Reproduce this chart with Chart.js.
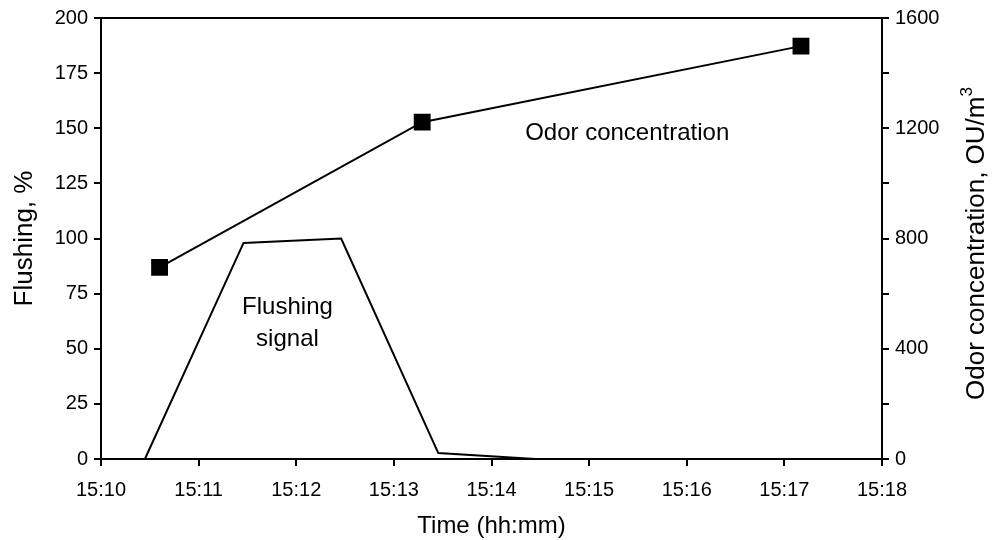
<!DOCTYPE html>
<html>
<head>
<meta charset="utf-8">
<script src="https://cdn.jsdelivr.net/npm/chart.js@4.4.0/dist/chart.umd.min.js"></script>
<style>
  html, body { margin: 0; padding: 0; background: #fff; }
  #wrap { width: 994px; height: 540px; }
</style>
</head>
<body>
<div id="wrap"><canvas id="chart"></canvas></div>
<script>
// minutes after 15:10
const xTickLabels = ["15:10","15:11","15:12","15:13","15:14","15:15","15:16","15:17","15:18"];

const flushTime  = [0.45, 1.46, 2.46, 3.455, 4.45];
const flushValue = [0, 98, 100, 2.7, 0];

const odorTime  = [0.60, 3.29, 7.17];
const odorValue = [695, 1222, 1498];

const FONT = "'Liberation Sans', Arial, sans-serif";

// text labels inside the plot, right axis title, top frame line
const extras = {
  id: "extras",
  afterDraw(chart) {
    const {ctx, chartArea, scales} = chart;
    ctx.save();
    ctx.strokeStyle = "#000";
    ctx.lineWidth = 2;
    ctx.beginPath();
    ctx.moveTo(chartArea.left, chartArea.top);
    ctx.lineTo(chartArea.right, chartArea.top);
    ctx.stroke();

    ctx.fillStyle = "#000";
    ctx.font = "24px " + FONT;
    ctx.textAlign = "center";
    ctx.textBaseline = "middle";
    ctx.fillText("Odor concentration", scales.x.getPixelForValue(5.39), scales.y2.getPixelForValue(1182));
    const fx = scales.x.getPixelForValue(1.91);
    const fy = scales.y.getPixelForValue(61.5);
    ctx.fillText("Flushing", fx, fy - 16);
    ctx.fillText("signal", fx, fy + 16);

    // right axis title, reading bottom to top, with superscript 3
    const main = "Odor concentration, OU/m";
    const sup = "3";
    ctx.font = "26px " + FONT;
    const wMain = ctx.measureText(main).width;
    ctx.font = "17px " + FONT;
    const wSup = ctx.measureText(sup).width;
    const total = wMain + wSup;
    const cy = (chartArea.top + chartArea.bottom) / 2 + 5;
    ctx.translate(977, cy);
    ctx.rotate(-Math.PI / 2);
    ctx.textAlign = "left";
    ctx.textBaseline = "middle";
    ctx.font = "26px " + FONT;
    ctx.fillText(main, -total / 2, 0);
    ctx.font = "17px " + FONT;
    ctx.fillText(sup, -total / 2 + wMain, -10);
    ctx.restore();
  }
};

new Chart(document.getElementById("chart"), {
  type: "scatter",
  data: {
    datasets: [
      {
        label: "Flushing signal",
        data: flushTime.map((t, i) => ({x: t, y: flushValue[i]})),
        showLine: true,
        borderColor: "#000",
        borderWidth: 2,
        pointRadius: 0,
        yAxisID: "y"
      },
      {
        label: "Odor concentration",
        data: odorTime.map((t, i) => ({x: t, y: odorValue[i]})),
        showLine: true,
        borderColor: "#000",
        borderWidth: 2,
        pointStyle: "rect",
        pointRadius: 10.5,
        pointBackgroundColor: "#000",
        pointBorderColor: "#000",
        yAxisID: "y2"
      }
    ]
  },
  options: {
    responsive: true,
    maintainAspectRatio: false,
    animation: false,
    layout: { padding: { top: 18, left: 0, right: 0, bottom: 0 } },
    plugins: { legend: { display: false }, tooltip: { enabled: false } },
    scales: {
      x: {
        type: "linear",
        min: 0, max: 8,
        afterBuildTicks(scale) { scale.ticks = xTickLabels.map((_, i) => ({value: i})); },
        afterFit(scale) { scale.height = 81; },
        ticks: {
          color: "#000", font: { family: FONT, size: 20 }, padding: 12,
          callback: (v) => xTickLabels[v]
        },
        grid: { drawOnChartArea: false, tickLength: 7, color: "#000", lineWidth: 2 },
        border: { color: "#000", width: 2 },
        title: { display: true, text: "Time (hh:mm)", color: "#000", font: { family: FONT, size: 24, lineHeight: 1.1 }, padding: { top: 0, bottom: 0 } }
      },
      y: {
        position: "left",
        min: 0, max: 200,
        afterFit(scale) { scale.width = 101; },
        ticks: { stepSize: 25, color: "#000", font: { family: FONT, size: 20 }, padding: 6 },
        grid: { drawOnChartArea: false, tickLength: 7, color: "#000", lineWidth: 2 },
        border: { color: "#000", width: 2 },
        title: { display: true, text: "Flushing, %", color: "#000", font: { family: FONT, size: 26, lineHeight: 1.1 }, padding: { top: 11, bottom: 0 } }
      },
      y2: {
        position: "right",
        min: 0, max: 1600,
        afterFit(scale) { scale.width = 112; },
        ticks: {
          stepSize: 200, color: "#000", font: { family: FONT, size: 20 }, padding: 6,
          callback: (v) => (v % 400 === 0 ? String(v) : "")
        },
        grid: { drawOnChartArea: false, tickLength: 7, color: "#000", lineWidth: 2 },
        border: { color: "#000", width: 2 }
      }
    }
  },
  plugins: [extras]
});
</script>
</body>
</html>
